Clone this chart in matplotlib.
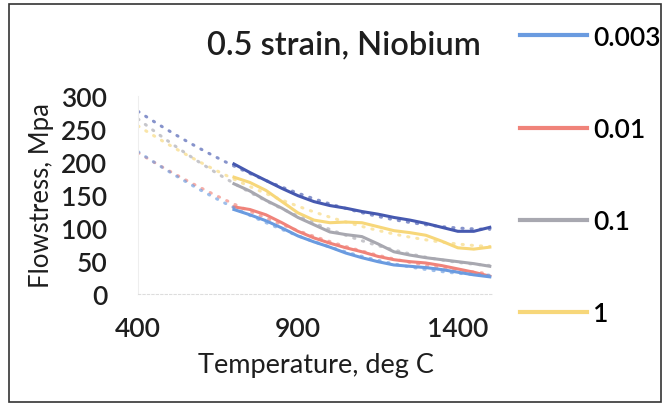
import numpy as np
import matplotlib
matplotlib.use("Agg")
import matplotlib.pyplot as plt
from matplotlib.patches import Rectangle

plt.rcParams['font.family'] = ['Lato', 'DejaVu Sans']
plt.rcParams['font.weight'] = 'semibold'

# temperature, deg C
temps = [700, 750, 800, 850, 900, 950, 1000, 1050, 1100, 1150,
         1200, 1250, 1300, 1350, 1400, 1450, 1500]

# flowstress (MPa) per strain rate
s_top = [197, 184, 172, 160, 149, 140, 134, 130, 125, 121, 116, 112, 107, 101, 95, 95, 101]
s_0003 = [128, 120, 111, 100, 88, 79, 71, 62, 55, 49, 44, 42, 40, 37, 33, 29, 26]
s_001 = [132, 128, 120, 108, 95, 85, 77, 70, 64, 57, 52, 49, 47, 43, 38, 33, 27]
s_01 = [167, 156, 142, 130, 116, 105, 94, 90, 87, 76, 64, 59, 55, 52, 49, 46, 42]
s_1 = [177, 169, 157, 140, 123, 112, 108, 109, 108, 102, 96, 93, 89, 80, 70, 68, 71]

labels = ['0.003', '0.01', '0.1', '1']
colors = ['#6a9be0', '#f0837a', '#a8a8b0', '#f7d77a']
top_color = '#4659b0'

fig = plt.figure(figsize=(6.67, 4.06), dpi=100)
ax = fig.add_axes([138/667, 1 - 295/406, 355/667, 198/406])

x = np.array(temps)
xt = np.linspace(400, 1500, 200)

series = [(s_top, top_color, None), (s_1, colors[3], labels[3]), (s_01, colors[2], labels[2]),
          (s_001, colors[1], labels[1]), (s_0003, colors[0], labels[0])]

handles = {}
for ys, c, lab in series:
    ys = np.array(ys)
    # order-2 trendline with backward forecast, like the spreadsheet
    p = np.polyfit(x, ys, 2)
    ax.plot(xt, np.polyval(p, xt), linestyle=(0, (0.4, 2.6)), color=c, lw=2.2,
            alpha=0.65, dash_capstyle='round')
    ln, = ax.plot(x, ys, color=c, lw=2.2)
    if lab:
        handles[lab] = ln

ax.set_xlim(400, 1510)
ax.set_ylim(0, 300)
ax.set_xticks([400, 900, 1400])
ax.set_yticks([0, 50, 100, 150, 200, 250, 300])
ax.tick_params(length=0, labelsize=19, colors='#1e1e1e')
ax.tick_params(axis='y', pad=22)
ax.tick_params(axis='x', pad=16)
for s in ['top', 'right']:
    ax.spines[s].set_visible(False)
ax.spines['left'].set_color('#eeeeee')
ax.spines['bottom'].set_color('#dddddd')
ax.spines['bottom'].set_linestyle((0, (2, 2)))

ax.set_xlabel('Temperature, deg C', fontsize=19.5, color='#1e1e1e', labelpad=8)
ax.set_ylabel('Flowstress, Mpa', fontsize=18.5, color='#1e1e1e', labelpad=5)

fig.text(344/667, 1 - 45/406, '0.5 strain, Niobium', fontsize=23.5, color='#1e1e1e',
         ha='center', va='center')

fig.legend([handles[l] for l in labels], labels, loc='upper left',
           bbox_to_anchor=(509/667, 1 - 15/406), frameon=False, fontsize=19,
           handlelength=2.55, handletextpad=0.25, labelspacing=2.55, borderaxespad=0)
for ln in fig.legends[0].get_lines():
    ln.set_linewidth(3)

fig.patches.append(Rectangle((9/667, 3/406), 652/667, 398/406, transform=fig.transFigure,
                             fill=False, edgecolor='#333333', lw=1.2))

fig.savefig('out.png', dpi=100)
